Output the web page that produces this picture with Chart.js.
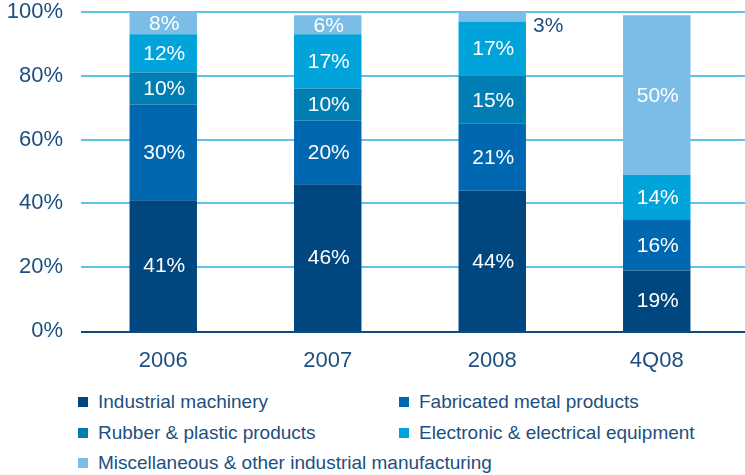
<!DOCTYPE html>
<html>
<head>
<meta charset="utf-8">
<script src="https://cdn.jsdelivr.net/npm/chart.js@4.4.1/dist/chart.umd.min.js"></script>
<style>
  html, body { margin: 0; padding: 0; background: #fff; }
  #wrap { position: relative; width: 745px; height: 475px; font-family: "Liberation Sans", Arial, sans-serif; }
  #chart { position: absolute; left: 0; top: 0; }
  .item { position: absolute; font-size: 19px; color: #1d4f80; line-height: 22px; white-space: nowrap; }
  .item span { position: absolute; width: 10px; height: 10px; left: 0; top: 6px; }
  .item b { font-weight: normal; position: absolute; left: 20px; top: 0; }
</style>
</head>
<body>
<div id="wrap">
  <canvas id="chart" width="745" height="380"></canvas>
  <div id="legend"></div>
</div>
<script>
const years = ['2006', '2007', '2008', '4Q08'];
const seriesNames = [
  'Industrial machinery',
  'Fabricated metal products',
  'Rubber & plastic products',
  'Electronic & electrical equipment',
  'Miscellaneous & other industrial manufacturing',
];
const machinery = [41, 46, 44, 19];
const fabricated = [30, 20, 21, 16];
const rubber = [10, 10, 15, 0];
const electronic = [12, 17, 17, 14];
const misc = [8, 6, 3, 50];
const yTicks = [0, 20, 40, 60, 80, 100];

const colors = ['#00467f', '#0067b1', '#007db3', '#00a4db', '#7bbde7'];
const textColor = '#1d4f80';
const gridColor = '#5cc4ea';

const values = [machinery, fabricated, rubber, electronic, misc];

// gridlines run the full width, past the last bar
const fullGrid = {
  id: 'fullGrid',
  beforeDatasetsDraw(chart) {
    const { ctx, scales: { y } } = chart;
    ctx.save();
    ctx.strokeStyle = gridColor;
    ctx.lineWidth = 2;
    yTicks.slice(1).forEach(t => {
      const py = Math.round(y.getPixelForValue(t));
      ctx.beginPath();
      ctx.moveTo(81, py);
      ctx.lineTo(chart.width, py);
      ctx.stroke();
    });
    ctx.restore();
  },
  afterDatasetsDraw(chart) {
    const { ctx, scales: { y } } = chart;
    const py = Math.round(y.getPixelForValue(0)) + 1;
    ctx.save();
    ctx.strokeStyle = '#0c4b80';
    ctx.lineWidth = 2;
    ctx.beginPath();
    ctx.moveTo(81, py);
    ctx.lineTo(chart.width, py);
    ctx.stroke();
    ctx.restore();
  },
};

// percentage labels inside each segment; thin segments get theirs beside the bar
const segmentLabels = {
  id: 'segmentLabels',
  afterDatasetsDraw(chart) {
    const { ctx, chartArea } = chart;
    ctx.save();
    ctx.font = '21px "Liberation Sans", Arial, sans-serif';
    ctx.textBaseline = 'middle';
    chart.data.datasets.forEach((ds, di) => {
      chart.getDatasetMeta(di).data.forEach((bar, i) => {
        const v = ds.data[i];
        if (!v) return;
        const top = Math.max(bar.y, chartArea.top);
        const h = bar.base - top;
        if (h < 16) {
          ctx.fillStyle = textColor;
          ctx.textAlign = 'left';
          ctx.fillText(v + '%', bar.x + bar.width / 2 + 7, top + 14);
        } else {
          ctx.fillStyle = '#ffffff';
          ctx.textAlign = 'center';
          ctx.fillText(v + '%', bar.x + 1, top + h / 2 + 1);
        }
      });
    });
    ctx.restore();
  },
};

new Chart(document.getElementById('chart').getContext('2d'), {
  type: 'bar',
  data: {
    labels: years,
    datasets: seriesNames.map((name, k) => ({
      label: name,
      data: values[k],
      backgroundColor: colors[k],
      borderWidth: 0,
      barPercentage: 0.41,
      categoryPercentage: 1,
      clip: 0,
    })),
  },
  options: {
    responsive: false,
    animation: false,
    layout: { padding: { left: 3, right: 6, top: 0, bottom: 0 } },
    plugins: { legend: { display: false }, tooltip: { enabled: false } },
    scales: {
      x: {
        stacked: true,
        grid: { display: false },
        border: { display: false },
        ticks: {
          color: textColor,
          font: { family: '"Liberation Sans", Arial, sans-serif', size: 22 },
          padding: 9,
        },
        afterFit(scale) { scale.height = 49; },
      },
      y: {
        stacked: true,
        min: 0,
        max: 100,
        grid: { display: false },
        border: { display: false },
        afterBuildTicks(scale) { scale.ticks = yTicks.map(v => ({ value: v })); },
        ticks: {
          color: textColor,
          font: { family: '"Liberation Sans", Arial, sans-serif', size: 22 },
          padding: 10,
          callback: v => v + '%',
        },
        afterFit(scale) {
          scale.width = 78;
          scale.paddingTop = 12;
        },
      },
    },
  },
  plugins: [fullGrid, segmentLabels],
});

// legend in two columns below the plot
const legendPos = [[78, 391], [399, 391], [78, 422], [399, 422], [78, 452]];
const legend = document.getElementById('legend');
seriesNames.forEach((name, k) => {
  const el = document.createElement('div');
  el.className = 'item';
  el.style.left = legendPos[k][0] + 'px';
  el.style.top = legendPos[k][1] + 'px';
  el.innerHTML = '<span style="background:' + colors[k] + '"></span><b></b>';
  el.querySelector('b').textContent = name;
  legend.appendChild(el);
});
</script>
</body>
</html>
